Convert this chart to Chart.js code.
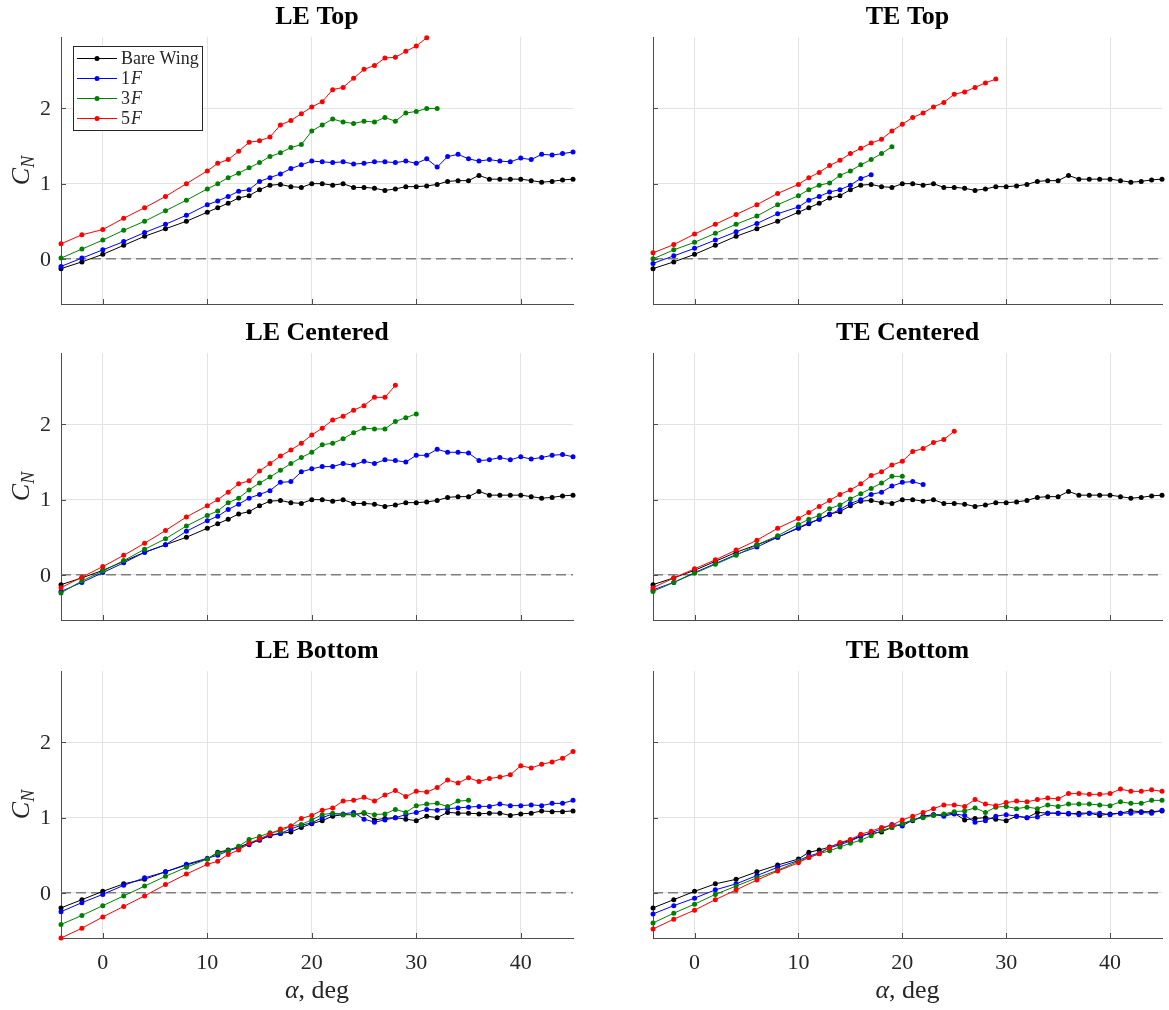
<!DOCTYPE html>
<html>
<head>
<meta charset="utf-8">
<title>C_N vs alpha</title>
<script src="https://cdn.jsdelivr.net/npm/chart.js@4.4.0/dist/chart.umd.min.js"></script>
<style>
  body { margin: 0; background: #fff; }
  canvas { position: absolute; }
</style>
</head>
<body>
<canvas id="p0"></canvas>
<canvas id="p1"></canvas>
<canvas id="p2"></canvas>
<canvas id="p3"></canvas>
<canvas id="p4"></canvas>
<canvas id="p5"></canvas>
<script>
// angle of attack, deg
const alpha = [-4, -2, 0, 2, 4, 6, 8, 10, 11, 12, 13, 14, 15, 16, 17, 18, 19, 20, 21, 22, 23, 24, 25, 26, 27,
  28, 29, 30, 31, 32, 33, 34, 35, 36, 37, 38, 39, 40, 41, 42, 43, 44, 45];
const xTicks = [0, 10, 20, 30, 40];
const yTicks = [0, 1, 2];
const zeroX = [-4, 45];
const zeroY = [0, 0];

const seriesNames = ['Bare Wing', '1F', '3F', '5F'];
const seriesColors = ['#000000', '#0000ff', '#008000', '#ff0000'];

// bare wing (top + centered rows)
const bareTop = [-0.13, -0.04, 0.06, 0.18, 0.30, 0.40, 0.50, 0.62, 0.68, 0.74, 0.81, 0.84, 0.92, 0.98, 0.99, 0.96,
  0.95, 1.00, 1.00, 0.98, 1.00, 0.95, 0.95, 0.94, 0.91, 0.93, 0.96, 0.96, 0.97, 0.99, 1.03, 1.04, 1.04, 1.11,
  1.06, 1.06, 1.06, 1.06, 1.04, 1.02, 1.03, 1.05, 1.06];
// bare wing (bottom row)
const bareBottom = [-0.20, -0.09, 0.02, 0.12, 0.18, 0.28, 0.37, 0.45, 0.54, 0.57, 0.61, 0.66, 0.70, 0.76, 0.79,
  0.81, 0.87, 0.92, 0.96, 1.02, 1.04, 1.04, 1.06, 0.97, 0.99, 1.00, 0.98, 0.96, 1.02, 1.00, 1.07, 1.06, 1.06,
  1.05, 1.06, 1.06, 1.03, 1.05, 1.06, 1.09, 1.08, 1.08, 1.09];

const leTop1F = [-0.10, 0.01, 0.12, 0.23, 0.35, 0.46, 0.58, 0.72, 0.77, 0.83, 0.90, 0.92, 1.03, 1.08, 1.13, 1.20,
  1.25, 1.30, 1.29, 1.28, 1.29, 1.26, 1.27, 1.29, 1.29, 1.28, 1.30, 1.27, 1.33, 1.22, 1.36, 1.39, 1.33, 1.30,
  1.32, 1.30, 1.29, 1.34, 1.32, 1.39, 1.38, 1.40, 1.42];
const leTop3F = [0.01, 0.13, 0.25, 0.38, 0.50, 0.64, 0.78, 0.93, 1.00, 1.08, 1.14, 1.21, 1.28, 1.36, 1.41, 1.48,
  1.52, 1.70, 1.78, 1.86, 1.82, 1.80, 1.83, 1.82, 1.88, 1.83, 1.94, 1.96, 2.00, 2.00];
const leTop5F = [0.20, 0.32, 0.39, 0.54, 0.68, 0.83, 1.00, 1.17, 1.27, 1.32, 1.43, 1.55, 1.57, 1.62, 1.78, 1.84,
  1.93, 2.02, 2.09, 2.25, 2.28, 2.40, 2.52, 2.57, 2.67, 2.68, 2.76, 2.83, 2.94];

const teTop1F = [-0.06, 0.04, 0.14, 0.25, 0.36, 0.47, 0.60, 0.69, 0.78, 0.83, 0.89, 0.92, 0.98, 1.07, 1.12];
const teTop3F = [0.00, 0.12, 0.22, 0.34, 0.46, 0.57, 0.72, 0.84, 0.92, 0.98, 1.01, 1.11, 1.17, 1.25, 1.32, 1.40, 1.49];
const teTop5F = [0.08, 0.19, 0.33, 0.46, 0.59, 0.72, 0.87, 0.99, 1.08, 1.15, 1.24, 1.31, 1.40, 1.47, 1.54, 1.59,
  1.70, 1.79, 1.88, 1.94, 2.02, 2.08, 2.19, 2.22, 2.28, 2.34, 2.39];

const leCen1F = [-0.22, -0.10, 0.03, 0.16, 0.30, 0.40, 0.58, 0.72, 0.78, 0.87, 0.94, 1.02, 1.07, 1.12, 1.23, 1.24,
  1.37, 1.41, 1.44, 1.44, 1.48, 1.46, 1.51, 1.48, 1.53, 1.52, 1.50, 1.59, 1.59, 1.67, 1.63, 1.63, 1.62, 1.52,
  1.53, 1.56, 1.53, 1.57, 1.54, 1.56, 1.59, 1.60, 1.57];
const leCen3F = [-0.24, -0.08, 0.05, 0.19, 0.34, 0.48, 0.65, 0.79, 0.85, 0.96, 1.02, 1.13, 1.22, 1.30, 1.39, 1.48,
  1.56, 1.63, 1.73, 1.75, 1.81, 1.89, 1.95, 1.94, 1.94, 2.04, 2.09, 2.14];
const leCen5F = [-0.17, -0.03, 0.11, 0.26, 0.42, 0.59, 0.77, 0.92, 1.00, 1.10, 1.21, 1.25, 1.38, 1.48, 1.58, 1.66,
  1.75, 1.86, 1.95, 2.06, 2.11, 2.19, 2.25, 2.36, 2.36, 2.52];

const teCen1F = [-0.20, -0.10, 0.03, 0.15, 0.27, 0.37, 0.50, 0.63, 0.69, 0.74, 0.80, 0.87, 0.95, 1.00, 1.07, 1.10,
  1.18, 1.23, 1.24, 1.20];
const teCen3F = [-0.22, -0.10, 0.02, 0.14, 0.26, 0.40, 0.52, 0.67, 0.74, 0.79, 0.88, 0.93, 1.01, 1.08, 1.15, 1.22,
  1.31, 1.31];
const teCen5F = [-0.17, -0.04, 0.08, 0.20, 0.33, 0.46, 0.62, 0.75, 0.83, 0.91, 0.99, 1.07, 1.13, 1.21, 1.32, 1.37,
  1.46, 1.51, 1.64, 1.68, 1.76, 1.80, 1.91];

const leBot1F = [-0.25, -0.13, -0.02, 0.10, 0.20, 0.28, 0.38, 0.46, 0.50, 0.56, 0.60, 0.64, 0.71, 0.77, 0.79, 0.85,
  0.90, 0.93, 1.00, 1.05, 1.05, 1.07, 0.98, 0.94, 0.97, 1.00, 1.04, 1.07, 1.11, 1.10, 1.12, 1.13, 1.14, 1.15,
  1.15, 1.18, 1.16, 1.16, 1.17, 1.16, 1.19, 1.19, 1.23];
const leBot3F = [-0.42, -0.30, -0.17, -0.04, 0.09, 0.22, 0.34, 0.45, 0.53, 0.56, 0.62, 0.71, 0.75, 0.80, 0.82, 0.89,
  0.91, 0.97, 1.04, 1.06, 1.04, 1.04, 1.07, 1.04, 1.05, 1.11, 1.07, 1.16, 1.18, 1.19, 1.15, 1.22, 1.23];
const leBot5F = [-0.60, -0.47, -0.32, -0.18, -0.04, 0.11, 0.25, 0.38, 0.42, 0.51, 0.57, 0.66, 0.72, 0.78, 0.85, 0.89,
  0.99, 1.03, 1.10, 1.13, 1.22, 1.23, 1.27, 1.22, 1.30, 1.36, 1.28, 1.35, 1.34, 1.40, 1.50, 1.46, 1.53, 1.48,
  1.52, 1.54, 1.57, 1.69, 1.66, 1.71, 1.74, 1.79, 1.88];

const teBot1F = [-0.28, -0.17, -0.07, 0.04, 0.12, 0.23, 0.34, 0.43, 0.49, 0.53, 0.60, 0.64, 0.69, 0.75, 0.80, 0.85,
  0.91, 0.89, 0.97, 1.01, 1.04, 1.02, 1.05, 1.03, 0.94, 0.96, 1.02, 1.04, 1.02, 1.00, 1.01, 1.06, 1.06, 1.06,
  1.04, 1.06, 1.06, 1.04, 1.06, 1.06, 1.07, 1.06, 1.10];
const teBot3F = [-0.40, -0.27, -0.15, -0.02, 0.09, 0.20, 0.30, 0.42, 0.47, 0.52, 0.56, 0.61, 0.66, 0.70, 0.76, 0.83,
  0.87, 0.92, 0.97, 1.00, 1.03, 1.05, 1.08, 1.09, 1.13, 1.07, 1.14, 1.15, 1.12, 1.14, 1.12, 1.17, 1.15, 1.18,
  1.18, 1.18, 1.17, 1.16, 1.21, 1.19, 1.19, 1.23, 1.23];
const teBot5F = [-0.48, -0.35, -0.23, -0.09, 0.04, 0.17, 0.29, 0.40, 0.47, 0.52, 0.60, 0.67, 0.71, 0.78, 0.82, 0.87,
  0.90, 0.97, 1.02, 1.07, 1.12, 1.17, 1.17, 1.15, 1.24, 1.18, 1.16, 1.20, 1.22, 1.21, 1.24, 1.26, 1.25, 1.32,
  1.32, 1.31, 1.31, 1.32, 1.38, 1.35, 1.35, 1.37, 1.35];

const FONT = '"Liberation Serif", "Times New Roman", serif';
const AXIS_COLOR = '#4d4d4d';
const TEXT_COLOR = '#262626';

const panels = [
  { id: 'p0', title: 'LE Top',      col: 0, row: 0, series: [bareTop, leTop1F, leTop3F, leTop5F], legend: true },
  { id: 'p1', title: 'TE Top',      col: 1, row: 0, series: [bareTop, teTop1F, teTop3F, teTop5F] },
  { id: 'p2', title: 'LE Centered', col: 0, row: 1, series: [bareTop, leCen1F, leCen3F, leCen5F] },
  { id: 'p3', title: 'TE Centered', col: 1, row: 1, series: [bareTop, teCen1F, teCen3F, teCen5F] },
  { id: 'p4', title: 'LE Bottom',   col: 0, row: 2, series: [bareBottom, leBot1F, leBot3F, leBot5F] },
  { id: 'p5', title: 'TE Bottom',   col: 1, row: 2, series: [bareBottom, teBot1F, teBot3F, teBot5F] }
];

const rowTop = [0, 316, 634];
const rowH = [316, 316, 376];
const colLeft = [0, 590];
const colW = [580, 579];
const yAxisW = [61, 63];
const padRight = [7, 7];
const plotTop = 37, plotH = 267;

// draws an italic F after the digit
function drawLabel(ctx, text, x, y, size) {
  const m = text.match(/^(\d)F$/);
  ctx.font = size + 'px ' + FONT;
  if (!m) {
    ctx.fillText(text, x, y);
    return;
  }
  ctx.fillText(m[1], x, y);
  const w = ctx.measureText(m[1]).width;
  ctx.font = 'italic ' + size + 'px ' + FONT;
  ctx.fillText('F', x + w + 1, y);
}

const decor = {
  id: 'decor',
  afterDatasetsDraw(chart, args, opts) {
    const ctx = chart.ctx;
    const a = chart.chartArea;
    const xs = chart.scales.x, ys = chart.scales.y;
    ctx.save();
    // inward tick marks
    ctx.strokeStyle = AXIS_COLOR;
    ctx.lineWidth = 1;
    ctx.beginPath();
    xTicks.forEach(v => {
      const px = Math.round(xs.getPixelForValue(v)) + 0.5;
      ctx.moveTo(px, a.bottom);
      ctx.lineTo(px, a.bottom - 5);
    });
    yTicks.forEach(v => {
      const py = Math.round(ys.getPixelForValue(v)) + 0.5;
      ctx.moveTo(a.left, py);
      ctx.lineTo(a.left + 5, py);
    });
    ctx.stroke();

    // y tick labels (left column only)
    if (opts.yLabel) {
      ctx.fillStyle = TEXT_COLOR;
      ctx.textAlign = 'right';
      ctx.textBaseline = 'middle';
      ctx.font = '22px ' + FONT;
      yTicks.forEach(v => {
        ctx.fillText(String(v), a.left - 10, ys.getPixelForValue(v) + 1);
      });
    }

    // title
    ctx.fillStyle = '#000';
    ctx.textAlign = 'center';
    ctx.textBaseline = 'alphabetic';
    ctx.font = 'bold 26px ' + FONT;
    ctx.fillText(opts.title, (a.left + a.right) / 2, a.top - 13);

    // y label C_N
    if (opts.yLabel) {
      ctx.save();
      ctx.translate(29, (a.top + a.bottom) / 2);
      ctx.rotate(-Math.PI / 2);
      ctx.fillStyle = TEXT_COLOR;
      ctx.textAlign = 'left';
      ctx.font = 'italic 26px ' + FONT;
      const wc = ctx.measureText('C').width;
      ctx.font = 'italic 18px ' + FONT;
      const wn = ctx.measureText('N').width;
      const x0 = -(wc + wn) / 2;
      ctx.font = 'italic 26px ' + FONT;
      ctx.fillText('C', x0, 0);
      ctx.font = 'italic 18px ' + FONT;
      ctx.fillText('N', x0 + wc, 5);
      ctx.restore();
    }

    // x label alpha, deg
    if (opts.xLabel) {
      ctx.fillStyle = TEXT_COLOR;
      ctx.textAlign = 'left';
      ctx.font = 'italic 26px ' + FONT;
      const wa = ctx.measureText('\u03b1').width;
      ctx.font = '26px ' + FONT;
      const wr = ctx.measureText(', deg').width;
      const x0 = (a.left + a.right) / 2 - (wa + wr) / 2;
      const yb = a.bottom + 60;
      ctx.font = 'italic 26px ' + FONT;
      ctx.fillText('\u03b1', x0, yb);
      ctx.font = '26px ' + FONT;
      ctx.fillText(', deg', x0 + wa, yb);
    }

    // legend
    if (opts.legend) {
      const bx = a.left + 12, by = a.top + 9, bw = 129, bh = 84;
      ctx.fillStyle = '#fff';
      ctx.fillRect(bx, by, bw, bh);
      ctx.strokeStyle = TEXT_COLOR;
      ctx.strokeRect(bx + 0.5, by + 0.5, bw, bh);
      seriesNames.forEach((name, i) => {
        const cy = by + 12 + i * 20;
        ctx.strokeStyle = seriesColors[i];
        ctx.beginPath();
        ctx.moveTo(bx + 4, cy + 0.5);
        ctx.lineTo(bx + 44, cy + 0.5);
        ctx.stroke();
        ctx.fillStyle = seriesColors[i];
        ctx.beginPath();
        ctx.arc(bx + 24, cy + 0.5, 2.5, 0, Math.PI * 2);
        ctx.fill();
        ctx.fillStyle = TEXT_COLOR;
        ctx.textAlign = 'left';
        ctx.textBaseline = 'middle';
        drawLabel(ctx, name, bx + 48, cy + 1, 18);
      });
    }
    ctx.restore();
  }
};

function makePanel(p) {
  const canvas = document.getElementById(p.id);
  canvas.width = colW[p.col];
  canvas.height = rowH[p.row];
  canvas.style.left = colLeft[p.col] + 'px';
  canvas.style.top = rowTop[p.row] + 'px';
  const bottomRow = p.row === 2;
  const xH = rowH[p.row] - plotTop - plotH;

  const datasets = [{
    data: zeroX.map((x, i) => ({ x: x, y: zeroY[i] })),
    borderColor: '#7f7f7f',
    borderWidth: 1.5,
    borderDash: [10, 5],
    pointRadius: 0,
    order: 10
  }];
  p.series.forEach((vals, i) => {
    datasets.push({
      label: seriesNames[i],
      data: vals.map((v, j) => ({ x: alpha[j], y: v })),
      borderColor: seriesColors[i],
      backgroundColor: seriesColors[i],
      borderWidth: 1,
      pointRadius: 2.5,
      pointBorderWidth: 0,
      pointBackgroundColor: seriesColors[i],
      tension: 0,
      clip: 6,
      order: 5 - i
    });
  });

  new Chart(canvas, {
    type: 'line',
    data: { datasets: datasets },
    options: {
      responsive: false,
      animation: false,
      events: [],
      layout: { padding: { left: 0, right: padRight[p.col], top: plotTop, bottom: 0 } },
      plugins: {
        legend: { display: false },
        tooltip: { enabled: false },
        decor: { title: p.title, yLabel: p.col === 0, xLabel: bottomRow, legend: !!p.legend }
      },
      scales: {
        x: {
          type: 'linear',
          min: -4,
          max: 45,
          afterBuildTicks: s => { s.ticks = xTicks.map(v => ({ value: v })); },
          afterFit: s => { s.height = xH; },
          grid: { color: '#e3e3e3', drawTicks: false },
          border: { color: AXIS_COLOR },
          ticks: {
            display: bottomRow,
            padding: 12,
            color: TEXT_COLOR,
            font: { family: FONT, size: 22 },
            maxRotation: 0
          }
        },
        y: {
          type: 'linear',
          min: -0.6,
          max: 2.95,
          afterBuildTicks: s => { s.ticks = yTicks.map(v => ({ value: v })); },
          afterFit: s => { s.width = yAxisW[p.col]; },
          grid: { color: '#e3e3e3', drawTicks: false },
          border: { color: AXIS_COLOR },
          ticks: { display: false }
        }
      }
    },
    plugins: [decor]
  });
}

panels.forEach(makePanel);
</script>
</body>
</html>
